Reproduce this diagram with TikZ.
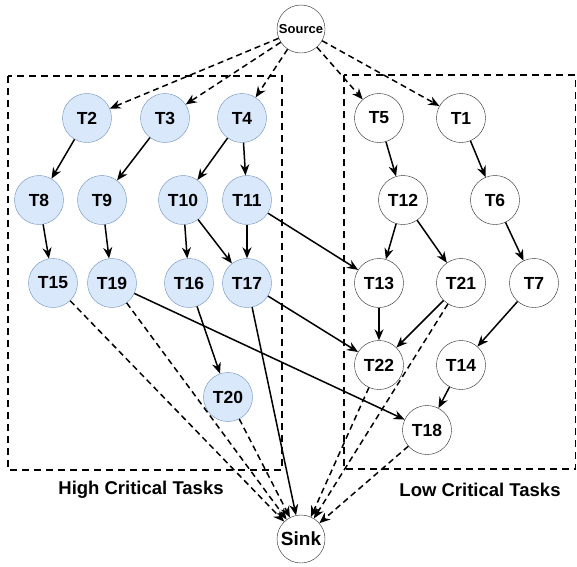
\documentclass[tikz,border=0pt]{standalone}
\usepackage{fontspec}
\setmainfont{Liberation Sans}
\usetikzlibrary{arrows.meta}
\definecolor{hifill}{HTML}{DAE8FC}
\definecolor{hidraw}{HTML}{6C8EBF}
\tikzstyle{high} = [circle,minimum size=49pt,inner sep=0pt,draw=hidraw,fill=hifill,font=\fontsize{17.5}{20}\selectfont\bfseries]
\tikzstyle{low} = [circle,minimum size=49pt,inner sep=0pt,draw=black!85,fill=white,font=\fontsize{17.5}{20}\selectfont\bfseries]
\tikzstyle{term} = [circle,minimum size=48pt,inner sep=0pt,draw=black!85,fill=white]
\tikzstyle{dep} = [-{Stealth[length=11pt,width=9pt]},line width=1.5pt]
\tikzstyle{toend} = [dep,dash pattern=on 6pt off 4pt]
\tikzstyle{group} = [draw,line width=1.5pt,dash pattern=on 7pt off 5pt]
\tikzstyle{grouplabel} = [font=\fontsize{18.5}{21}\selectfont\bfseries]

\begin{document}
\begin{tikzpicture}[x=1pt,y=1pt]
    \useasboundingbox (0,0) rectangle (577,-566);

    % Groups
    \draw[group] (8,-76) rectangle (282,-470);
    \draw[group] (344,-75) rectangle (575.5,-469);
    \node[grouplabel] (hilabel) at (141,-490) {High Critical Tasks};
    \node[grouplabel] (lolabel) at (480,-490) {Low Critical Tasks};

    % Source and sink
    \node[term,font=\fontsize{13}{15}\selectfont\bfseries] (source) at (301,-29) {Source};
    \node[term,font=\fontsize{19}{21}\selectfont\bfseries] (sink) at (301,-539) {Sink};

    % High critical tasks
    \node[high] (T2) at (87,-118) {T2};
    \node[high] (T3) at (165,-118) {T3};
    \node[high] (T4) at (242,-118) {T4};
    \node[high] (T8) at (39,-200) {T8};
    \node[high] (T9) at (102,-200) {T9};
    \node[high] (T10) at (183,-200) {T10};
    \node[high] (T11) at (247,-200) {T11};
    \node[high] (T15) at (53,-283) {T15};
    \node[high] (T19) at (112,-283) {T19};
    \node[high] (T16) at (189,-283) {T16};
    \node[high] (T17) at (247,-283) {T17};
    \node[high] (T20) at (228,-397) {T20};

    % Low critical tasks
    \node[low] (T5) at (379,-118) {T5};
    \node[low] (T1) at (461,-118) {T1};
    \node[low] (T12) at (403,-200) {T12};
    \node[low] (T6) at (495,-200) {T6};
    \node[low] (T13) at (379,-283) {T13};
    \node[low] (T21) at (461,-283) {T21};
    \node[low] (T7) at (534,-283) {T7};
    \node[low] (T22) at (379,-365) {T22};
    \node[low] (T14) at (461,-365) {T14};
    \node[low] (T18) at (427,-430) {T18};

    % arrow
    \foreach \t in {T2,T3,T4,T5,T1}
        \draw[toend] (source) -- (\t);
    \draw[dep] (T2) -- (T8);
    \draw[dep] (T3) -- (T9);
    \draw[dep] (T4) -- (T10);
    \draw[dep] (T4) -- (T11);
    \draw[dep] (T8) -- (T15);
    \draw[dep] (T9) -- (T19);
    \draw[dep] (T10) -- (T16);
    \draw[dep] (T10) -- (T17);
    \draw[dep] (T11) -- (T17);
    \draw[dep] (T11) -- (T13);
    \draw[dep] (T16) -- (T20);
    \draw[dep] (T17) -- (T22);
    \draw[dep] (T19) -- (T18);
    \draw[dep] (T5) -- (T12);
    \draw[dep] (T1) -- (T6);
    \draw[dep] (T12) -- (T13);
    \draw[dep] (T12) -- (T21);
    \draw[dep] (T6) -- (T7);
    \draw[dep] (T13) -- (T22);
    \draw[dep] (T21) -- (T22);
    \draw[dep] (T7) -- (T14);
    \draw[dep] (T14) -- (T18);
    \draw[dep] (T17) -- (sink);
    \foreach \t in {T15,T19,T20,T22,T21,T18}
        \draw[toend] (\t) -- (sink);
\end{tikzpicture}
\end{document}
